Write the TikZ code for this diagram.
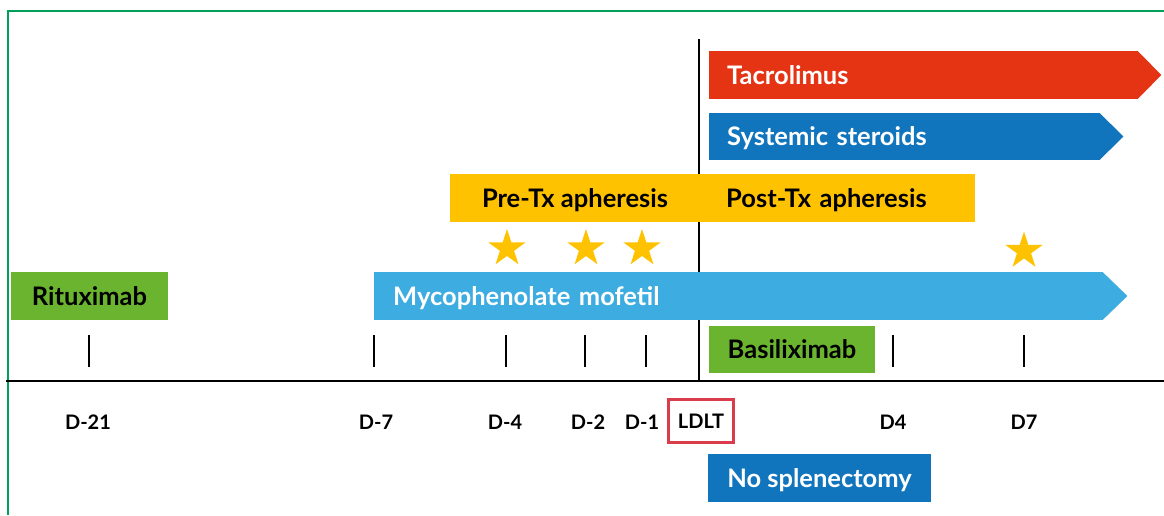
\documentclass[tikz,border=0pt]{standalone}
\usepackage{fontspec}
\setmainfont{Lato}
\usetikzlibrary{positioning,calc,shapes.geometric}
\definecolor{TacroRed}{RGB}{229,52,20}
\definecolor{SteroidBlue}{RGB}{16,117,189}
\definecolor{MmfBlue}{RGB}{61,172,224}
\definecolor{AphYellow}{RGB}{255,194,0}
\definecolor{MabGreen}{RGB}{106,180,47}
\definecolor{FrameGreen}{RGB}{0,160,90}
\definecolor{TxRed}{RGB}{218,60,75}
\tikzset{
  bar/.style={anchor=west,minimum height=48pt,inner ysep=0pt,inner xsep=18pt,align=left,
    text height=18pt,text depth=0pt,font=\fontsize{25.5}{25.5}\selectfont\bfseries},
  box/.style={minimum height=48pt,inner sep=0pt,text height=18pt,text depth=0pt,
    font=\fontsize{25.5}{25.5}\selectfont\bfseries},
  apstar/.style={star,star points=5,star point ratio=2.618,fill=AphYellow,
    minimum size=39pt,inner sep=0pt},
  tick/.style={draw=black,line width=2.2pt},
  day/.style={inner sep=0pt,text height=15pt,text depth=0pt,font=\fontsize{20}{20}\selectfont\bfseries},
  txbox/.style={draw=TxRed,line width=3pt,minimum width=65pt,minimum height=43pt,inner sep=0pt,
    text height=15pt,text depth=0pt,font=\fontsize{20}{20}\selectfont\bfseries},
  frame/.style={draw=FrameGreen,line width=2.8pt},
}

\begin{document}
\begin{tikzpicture}[x=1pt,y=-1pt]
\useasboundingbox (0,0) rectangle (1164,515);
\draw[frame] (8,515) -- (8,11) -- (1164,11);
\coordinate (axl) at (6,381);
\coordinate (axr) at (1164,381);
\coordinate (txtop) at (699,39);
\coordinate (txbot) at (699,381);
\draw[line width=2.5pt] (axl) -- (axr);
\draw[line width=2.6pt] (txtop) -- (txbot);
\node[bar,fill=TacroRed,text=white,text width=393pt] (tacro) at (709,75) {Tacrolimus};
\fill[TacroRed] ([xshift=-1pt]tacro.north east) -- ($(tacro.east)+(23,0)$) -- ([xshift=-1pt]tacro.south east) -- cycle;
\node[bar,fill=SteroidBlue,text=white,text width=355pt,minimum height=47pt] (ster) at (709,136.5) {Systemic steroids};
\fill[SteroidBlue] ([xshift=-1pt]ster.north east) -- ($(ster.east)+(23,0)$) -- ([xshift=-1pt]ster.south east) -- cycle;
\node[box,fill=AphYellow,minimum width=250pt] (preap) at (575,198) {Pre-Tx apheresis};
\node[bar,fill=AphYellow,inner xsep=27pt,text width=222pt] (postap) at (699,198) {Post-Tx apheresis};
\node[apstar] (s1) at (507,248.5) {};
\node[apstar] (s2) at (586,248.5) {};
\node[apstar] (s3) at (642,248.5) {};
\node[apstar] (s4) at (1024,251) {};
\node[box,fill=MabGreen,minimum width=157pt] (ritux) at (89.5,296) {Rituximab};
\node[bar,fill=MmfBlue,text=white,inner xsep=19pt,text width=691pt] (mmf) at (374,296) {Mycophenolate mofetil};
\fill[MmfBlue] ([xshift=-1pt]mmf.north east) -- ($(mmf.east)+(24,0)$) -- ([xshift=-1pt]mmf.south east) -- cycle;
\node[box,fill=MabGreen,minimum width=166pt,minimum height=47pt] (basil) at (792,349.5) {Basiliximab};
\coordinate (k21) at (89,335);
\coordinate (k7) at (374,335);
\coordinate (k4) at (506,335);
\coordinate (k2) at (585,335);
\coordinate (k1) at (646,335);
\coordinate (kp4) at (893,335);
\coordinate (kp7) at (1024,335);
\foreach \k in {k21,k7,k4,k2,k1,kp4,kp7}
  \draw[tick] (\k) -- ++(0,32);
\node[day] (d21) at (88,422) {D-21};
\node[day] (d7) at (376,422) {D-7};
\node[day] (d4) at (505,422) {D-4};
\node[day] (d2) at (588,422) {D-2};
\node[day] (d1) at (642,422) {D-1};
\node[txbox] (ldlt) at (701,421) {LDLT};
\node[day] (dp4) at (893,422) {D4};
\node[day] (dp7) at (1024,422) {D7};
\node[box,fill=SteroidBlue,text=white,minimum width=223pt] (nosplen) at (819.5,478) {No splenectomy};
\end{tikzpicture}
\end{document}
